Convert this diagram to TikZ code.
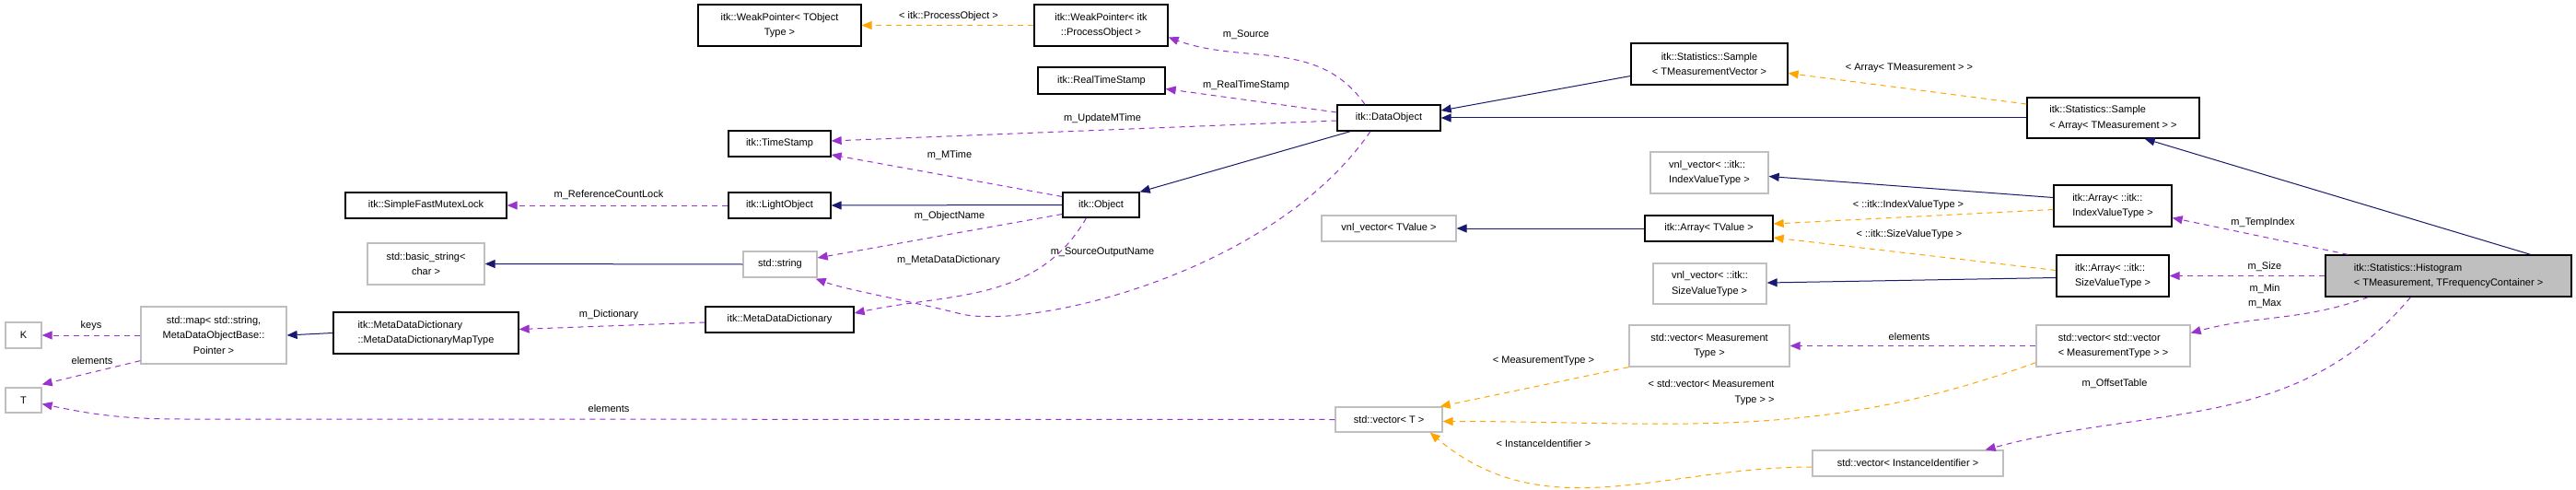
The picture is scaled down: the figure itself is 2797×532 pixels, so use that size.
\documentclass[tikz,border=0pt]{standalone}
\usepackage{fontspec}
\setmainfont{Liberation Sans}
\usetikzlibrary{arrows.meta}
\definecolor{pur}{RGB}{154,50,205}
\definecolor{org}{RGB}{255,165,0}
\definecolor{nav}{RGB}{25,25,112}
\definecolor{gb}{RGB}{191,191,191}
\begin{document}
\begin{tikzpicture}[x=1pt,y=-1pt,
  every node/.style={font=\fontsize{11}{16.5}\selectfont},
  bk/.style={draw=black,line width=1.3pt,inner sep=0pt,align=center},
  gr/.style={draw=gb,line width=1.3pt,inner sep=0pt,align=center},
  tip/.style={-{Triangle[length=11pt,width=9pt]}},
  mem/.style={tip,draw=pur,dashed,dash pattern=on 6pt off 5pt,line width=1pt},
  tpl/.style={tip,draw=org,dashed,dash pattern=on 6pt off 5pt,line width=1pt},
  inh/.style={tip,draw=nav,line width=1pt},
  lb/.style={inner sep=0pt,align=center}]
\useasboundingbox (0,0) rectangle (2797,532);
\fill[white] (0,0) rectangle (2797,532);
% nodes
\node[bk,minimum width=177,minimum height=45] (WPT) at (846.5,27.5) {itk::WeakPointer< TObject\\Type >};
\node[bk,minimum width=145,minimum height=45] (WPP) at (1195.5,27.5) {itk::WeakPointer< itk\\::ProcessObject >};
\node[bk,minimum width=138,minimum height=29] (RTS) at (1196,87.5) {itk::RealTimeStamp};
\node[bk,minimum width=111,minimum height=28] (TS) at (846.5,156) {itk::TimeStamp};
\node[bk,minimum width=175,minimum height=28] (SFML) at (462.5,223) {itk::SimpleFastMutexLock};
\node[bk,minimum width=111,minimum height=28] (LO) at (846.5,223) {itk::LightObject};
\node[bk,minimum width=83,minimum height=27] (Obj) at (1195.5,222.5) {itk::Object};
\node[bk,minimum width=112,minimum height=28] (DO) at (1508,128) {itk::DataObject};
\node[gr,minimum width=127,minimum height=45] (bstr) at (462.5,286.5) {std::basic\_string<\\char >};
\node[gr,minimum width=80,minimum height=28] (str) at (847,287) {std::string};
\node[bk,minimum width=161,minimum height=28] (MDD) at (846.5,347) {itk::MetaDataDictionary};
\node[bk,minimum width=201,minimum height=45,align=left] (MapT) at (462.5,361.5) {itk::MetaDataDictionary\\::MetaDataDictionaryMapType};
\node[gr,minimum width=158,minimum height=62] (map) at (232,364) {std::map< std::string,\\MetaDataObjectBase::\\Pointer >};
\node[gr,minimum width=39,minimum height=28] (K) at (25.5,364) {K};
\node[gr,minimum width=39,minimum height=27] (T) at (25.5,434.5) {T};
\node[bk,minimum width=170,minimum height=45] (SmpTMV) at (1856,69.5) {itk::Statistics::Sample\\< TMeasurementVector >};
\node[bk,minimum width=187,minimum height=44,align=left] (SmpArr) at (2294.5,128) {itk::Statistics::Sample\\< Array< TMeasurement > >};
\node[gr,minimum width=128,minimum height=45,align=left] (vnlI) at (1856,187.5) {vnl\_vector< ::itk::\\IndexValueType >};
\node[gr,minimum width=146,minimum height=28] (vnlTV) at (1508,248) {vnl\_vector< TValue >};
\node[bk,minimum width=139,minimum height=28] (ArrTV) at (1855.5,248) {itk::Array< TValue >};
\node[gr,minimum width=123,minimum height=44,align=left] (vnlS) at (1856.5,308) {vnl\_vector< ::itk::\\SizeValueType >};
\node[bk,minimum width=128,minimum height=45,align=left] (ArrI) at (2294,223.5) {itk::Array< ::itk::\\IndexValueType >};
\node[bk,minimum width=122,minimum height=45,align=left] (ArrS) at (2294,299.5) {itk::Array< ::itk::\\SizeValueType >};
\node[bk,fill=gb,minimum width=267,minimum height=45,align=left] (Hist) at (2658.5,299.5) {itk::Statistics::Histogram\\< TMeasurement, TFrequencyContainer >};
\node[gr,minimum width=174,minimum height=45] (vecM) at (1856,375.5) {std::vector< Measurement\\Type >};
\node[gr,minimum width=116,minimum height=27] (vecT) at (1508,455.5) {std::vector< T >};
\node[gr,minimum width=167,minimum height=45,align=left] (vecV) at (2294.5,375.5) {std::vector< std::vector\\< MeasurementType > >};
\node[gr,minimum width=207,minimum height=28] (vecII) at (2071.5,503) {std::vector< InstanceIdentifier >};
% connectors
\draw[tpl] (WPP.west) -- (WPT.east);
\node[lb] (l1) at (1030,18) {< itk::ProcessObject >};
\draw[mem] ([xshift=-26]DO.north) to[out=125,in=-20] ([yshift=-13]WPP.east);
\node[lb] (l2) at (1353,38) {m\_Source};
\draw[mem] ([yshift=6]DO.west) -- ([yshift=-9]RTS.east);
\node[lb] (l3) at (1353,93) {m\_RealTimeStamp};
\draw[mem] ([yshift=-3]DO.west) -- ([yshift=3]TS.east);
\node[lb] (l4) at (1197,129) {m\_UpdateMTime};
\draw[mem] ([yshift=9]Obj.west) -- ([yshift=-12]TS.east);
\node[lb] (l5) at (1031,169) {m\_MTime};
\draw[inh] ([xshift=15]DO.south west) -- (Obj.north east);
\draw[inh] (Obj.west) -- (LO.east);
\draw[mem] (LO.west) -- (SFML.east);
\node[lb] (l6) at (661,212) {m\_ReferenceCountLock};
\draw[mem] ([yshift=-10]Obj.west) -- ([yshift=7]str.east);
\node[lb] (l7) at (1031,235) {m\_ObjectName};
\draw[mem] ([xshift=-20]DO.south) .. controls (1380,300) and (1110,360) .. (1040,340) .. controls (980,325) and (920,315) .. ([xshift=-2,yshift=-1]str.south east);
\node[lb] (l8) at (1197,274) {m\_SourceOutputName};
\draw[mem] ([xshift=-16]Obj.south) to[out=-120,in=12] ([yshift=7]MDD.east);
\node[lb] (l9) at (1030,283) {m\_MetaDataDictionary};
\draw[inh] (str.west) -- (bstr.east);
\draw[mem] ([yshift=-3]MDD.west) -- ([yshift=4]MapT.east);
\node[lb] (l10) at (661,342) {m\_Dictionary};
\draw[inh] (MapT.west) -- (map.east);
\draw[mem] (map.west) -- (K.east);
\node[lb] (l11) at (99,354) {keys};
\draw[mem] ([yshift=4]map.south west) -- ([yshift=3]T.north east);
\node[lb] (l12) at (100,392) {elements};
\draw[mem] (vecT.west) -- (200,455) to[out=180,in=-12] ([yshift=-4]T.east);
\node[lb] (l13) at (661,444) {elements};
\draw[inh] ([yshift=-13]SmpTMV.west) -- ([yshift=8]DO.east);
\draw[inh] (SmpArr.west) -- (DO.east);
\draw[tpl] ([yshift=15]SmpArr.west) -- ([yshift=-10]SmpTMV.east);
\node[lb] (l14) at (2073,74) {< Array< TMeasurement > >};
\draw[inh] ([xshift=-45]Hist.north east) -- ([xshift=-60]SmpArr.south east);
\draw[inh] ([yshift=9]ArrI.west) -- ([yshift=-4]vnlI.east);
\draw[tpl] ([yshift=-4]ArrI.west) -- ([yshift=5]ArrTV.east);
\node[lb] (l15) at (2072,223) {< ::itk::IndexValueType >};
\draw[tpl] ([yshift=6]ArrS.west) -- ([yshift=-10]ArrTV.east);
\node[lb] (l16) at (2073,255) {< ::itk::SizeValueType >};
\draw[inh] ([yshift=-2]ArrS.west) -- ([yshift=1]vnlS.east);
\draw[inh] (ArrTV.west) -- (vnlTV.east);
\draw[mem] ([xshift=25]Hist.north west) -- ([yshift=-13]ArrI.east);
\node[lb] (l17) at (2457,242) {m\_TempIndex};
\draw[mem] (Hist.west) -- (ArrS.east);
\node[lb] (l18) at (2459,290) {m\_Size};
\node[lb] (l19) at (2459,321.5) {m\_Min\\m\_Max};
\draw[mem] ([xshift=47]Hist.south west) to[out=-160,in=15] ([yshift=14]vecV.east);
\draw[mem] ([xshift=93]Hist.south west) to[out=-130,in=15] ([xshift=-20]vecII.north east);
\node[lb] (l20) at (2296,417) {m\_OffsetTable};
\draw[mem] (vecV.west) -- (vecM.east);
\node[lb] (l21) at (2073,366) {elements};
\draw[tpl] (vecM.south west) -- ([xshift=-3]vecT.north east);
\node[lb] (l22) at (1676,392) {< MeasurementType >};
\draw[tpl] ([yshift=5]vecV.south west) to[out=-160,in=0] ([yshift=-2]vecT.east);
\node[lb,align=right] (l23) at (1858,426) {< std::vector< Measurement\\Type > >};
\draw[tpl] ([yshift=-4]vecII.west) to[out=180,in=-40] ([xshift=-14]vecT.south east);
\node[lb] (l24) at (1676,482) {< InstanceIdentifier >};
\end{tikzpicture}
\end{document}
